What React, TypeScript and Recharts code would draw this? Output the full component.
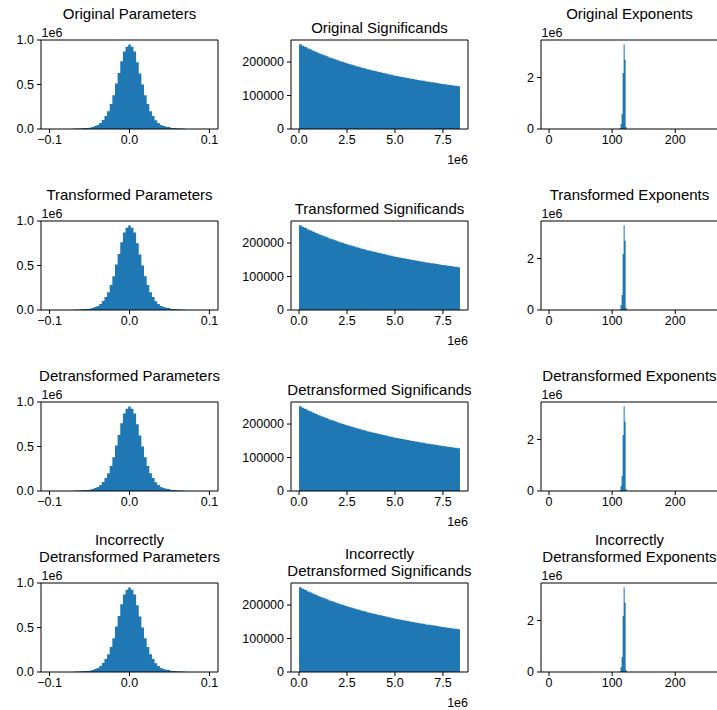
import React from 'react';
import { ComposedChart, Area, XAxis, YAxis, ReferenceArea } from 'recharts';

const BLUE = '#1f77b4';
const FONT = '"Liberation Sans", Arial, Helvetica, sans-serif';

// row prefixes and column names make up the panel titles
const ROW_NAMES = ['Original', 'Transformed', 'Detransformed', 'Incorrectly\nDetransformed'];
const COLUMN_NAMES = ['Parameters', 'Significands', 'Exponents'];

// parameter histogram: non-empty bins only, 0.0033 wide, centred on 0
const PARAM_FIRST_EDGE = -0.07095;
const PARAM_BIN = 0.0033;
const PARAM_COUNTS = [
  4000, 5000, 6000, 8000, 10000, 12000, 15000, 22000, 34000, 45000, 67000,
  100000, 146000, 200000, 280000, 380000, 510000, 630000, 760000, 870000, 925000,
  950000,
  925000, 870000, 750000, 625000, 500000, 380000, 280000, 200000, 146000, 97000,
  67000, 45000, 34000, 26000, 22000, 11000, 10000, 8000, 6000, 5000, 4000,
];
const PARAM_X_TICKS = [-0.1, 0, 0.1];
const PARAM_Y_TICKS = [0, 500000, 1000000];

// significand histogram: 60 bins over [0, 2^23)
const SIG_MAX = 8388608;
const SIG_COUNTS = [
  253100, 248600, 244900, 240700, 237400, 233500, 230200, 226600, 223500, 220000,
  217100, 213900, 211100, 208100, 205500, 202500, 200100, 197300, 195000, 192400,
  190200, 187600, 185600, 183100, 181200, 178800, 177000, 174800, 173000, 170800,
  169200, 167100, 165500, 163500, 162000, 160100, 158600, 156800, 155400, 153700,
  152300, 150600, 149400, 147700, 146500, 144900, 143800, 142200, 141100, 139600,
  138600, 137100, 136100, 134700, 133700, 132400, 131400, 130100, 129200, 127900,
];
const SIG_X_TICKS = [0, 2500000, 5000000, 7500000];
const SIG_Y_TICKS = [0, 100000, 200000];

// exponent histogram: only the bins around 118 hold anything
const EXP_FIRST_EDGE = 111.8;
const EXP_BIN = 1.6;
const EXP_COUNTS = [30000, 190000, 580000, 2170000, 3290000, 2690000, 80000];
const EXP_X_TICKS = [0, 100, 200];
const EXP_Y_TICKS = [0, 2000000];

const toSteps = (first: number, width: number, counts: number[]) => {
  const pts = counts.map((c, i) => ({ x: first + i * width, count: c }));
  pts.push({ x: first + counts.length * width, count: counts[counts.length - 1] });
  return pts;
};

const fmtParam = (v: number) => (v < 0 ? '\u2212' : '') + Math.abs(v).toFixed(1);

const COLUMNS = [
  {
    data: toSteps(PARAM_FIRST_EDGE, PARAM_BIN, PARAM_COUNTS),
    xDomain: [-0.1107, 0.1107],
    yDomain: [0, 1000000],
    xTicks: PARAM_X_TICKS,
    yTicks: PARAM_Y_TICKS,
    fmtX: fmtParam,
    fmtY: (v: number) => (v / 1e6).toFixed(1),
    offset: 'top',
  },
  {
    data: toSteps(0, SIG_MAX / SIG_COUNTS.length, SIG_COUNTS),
    xDomain: [-0.05 * SIG_MAX, 1.05 * SIG_MAX],
    yDomain: [0, 265800],
    xTicks: SIG_X_TICKS,
    yTicks: SIG_Y_TICKS,
    fmtX: (v: number) => (v / 1e6).toFixed(1),
    fmtY: (v: number) => String(v),
    offset: 'bottom',
  },
  {
    data: toSteps(EXP_FIRST_EDGE, EXP_BIN, EXP_COUNTS),
    xDomain: [-12.75, 267.75],
    yDomain: [0, 3454500],
    xTicks: EXP_X_TICKS,
    yTicks: EXP_Y_TICKS,
    fmtX: (v: number) => String(v),
    fmtY: (v: number) => String(v / 1e6),
    offset: 'top',
  },
];

const COL_LEFT = [41, 291, 541];
const ROW_TOP = [40, 221, 402, 583];
const PLOT_W = 177;
const PLOT_H = 89;
const AXIS_W = 65;
const AXIS_H = 25;
const PAD_TOP = 10;

const tickStyle = { fontSize: 12.5, fill: '#000', fontFamily: FONT };

const Panel = ({ col, row }: { col: number; row: number }) => {
  const c = COLUMNS[col];
  const left = COL_LEFT[col];
  const top = ROW_TOP[row];
  const title = ROW_NAMES[row] + ' ' + COLUMN_NAMES[col];
  const twoLines = title.includes('\n');
  const titleTop = (col === 1 ? top - 21.3 : top - 34.7) - (twoLines ? 17 : 0);
  return (
    <>
      <div style={{ position: 'absolute', left: left - AXIS_W, top: top - PAD_TOP }}>
        <ComposedChart
          width={AXIS_W + PLOT_W + 5}
          height={PAD_TOP + PLOT_H + AXIS_H}
          data={c.data}
          margin={{ top: PAD_TOP, right: 5, bottom: 0, left: 0 }}
        >
          <XAxis
            dataKey="x"
            type="number"
            domain={c.xDomain}
            ticks={c.xTicks}
            interval={0}
            allowDataOverflow
            height={AXIS_H}
            tickSize={4}
            tickMargin={2}
            axisLine={false}
            tickLine={{ stroke: '#000' }}
            tick={tickStyle}
            tickFormatter={c.fmtX}
          />
          <YAxis
            type="number"
            domain={c.yDomain}
            ticks={c.yTicks}
            interval={0}
            allowDataOverflow
            width={AXIS_W}
            tickSize={4}
            tickMargin={3}
            axisLine={false}
            tickLine={{ stroke: '#000' }}
            tick={tickStyle}
            tickFormatter={c.fmtY}
          />
          <Area
            type="stepAfter"
            dataKey="count"
            fill={BLUE}
            fillOpacity={1}
            stroke="none"
            isAnimationActive={false}
            dot={false}
            activeDot={false}
          />
          <ReferenceArea
            x1={c.xDomain[0]}
            x2={c.xDomain[1]}
            y1={c.yDomain[0]}
            y2={c.yDomain[1]}
            fill="none"
            stroke="#000"
            strokeWidth={1}
          />
        </ComposedChart>
      </div>
      <div
        style={{
          position: 'absolute', left: left + PLOT_W / 2 - 150, width: 300, top: titleTop,
          textAlign: 'center', fontSize: 15, lineHeight: '17px', whiteSpace: 'pre', color: '#000',
        }}
      >
        {title}
      </div>
      {c.offset === 'top' ? (
        <div style={{ position: 'absolute', left: left + 0.5, top: top - 14.3, fontSize: 12.5, lineHeight: '14px' }}>1e6</div>
      ) : (
        <div style={{ position: 'absolute', left: left + PLOT_W - 60, width: 60, textAlign: 'right', top: top + PLOT_H + 23.7, fontSize: 12.5, lineHeight: '14px' }}>1e6</div>
      )}
    </>
  );
};

export default function App() {
  return (
    <div
      style={{
        position: 'absolute', left: 0, top: 0, width: 717, height: 710, overflow: 'hidden',
        background: '#fff', fontFamily: FONT, color: '#000',
      }}
    >
      {ROW_TOP.map((_, row) =>
        COL_LEFT.map((_, col) => <Panel key={`${row}-${col}`} row={row} col={col} />)
      )}
    </div>
  );
}
